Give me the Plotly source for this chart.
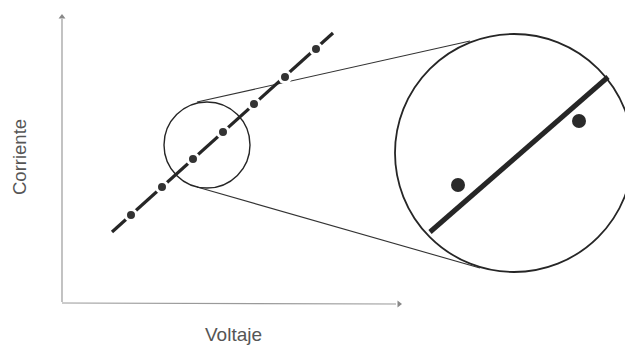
import plotly.graph_objects as go

# ---- data (drawing units: 1 unit ~ 1 px, origin at the axes corner) ----
voltage = [69, 100, 131, 161, 192, 223, 254]
current = [87, 115, 143, 170, 198, 225, 253]
fit_voltage = [50, 271]
fit_current = [70, 269]

# zoom-in circle (small) and magnified view (big)
small_center = (145, 157)
small_radius = 43
big_center = (452, 149)
big_radius = 119
zoom_fit_x = [368, 546]
zoom_fit_y = [70, 225]
zoom_pts_x = [396, 517]
zoom_pts_y = [117, 181]

# tangent connector lines
upper_conn_x = [135, 408]
upper_conn_y = [200, 261]
lower_conn_x = [135, 418]
lower_conn_y = [115, 34]

# axes
y_axis_x = [0, 0]
y_axis_y = [0, 283]
x_axis_x = [0, 334]
x_axis_y = [-1, -2]

x_label = "Voltaje"
y_label = "Corriente"

ink = "#262626"
axis_col = "#9a9a9a"

fig = go.Figure()

# axes
fig.add_trace(go.Scatter(x=y_axis_x, y=y_axis_y, mode="lines",
                         line=dict(color=axis_col, width=1.2), hoverinfo="skip"))
fig.add_trace(go.Scatter(x=x_axis_x, y=x_axis_y, mode="lines",
                         line=dict(color=axis_col, width=1.2), hoverinfo="skip"))
fig.add_trace(go.Scatter(x=[y_axis_x[1]], y=[y_axis_y[1] + 2], mode="markers",
                         marker=dict(symbol="triangle-up", size=6, color="#888"),
                         hoverinfo="skip"))
fig.add_trace(go.Scatter(x=[x_axis_x[1] + 3], y=[x_axis_y[1]], mode="markers",
                         marker=dict(symbol="triangle-right", size=6, color="#888"),
                         hoverinfo="skip"))

# connectors
fig.add_trace(go.Scatter(x=upper_conn_x, y=upper_conn_y, mode="lines",
                         line=dict(color="#333", width=1.1), hoverinfo="skip"))
fig.add_trace(go.Scatter(x=lower_conn_x, y=lower_conn_y, mode="lines",
                         line=dict(color="#333", width=1.1), hoverinfo="skip"))

# circles
fig.add_shape(type="circle", xref="x", yref="y",
              x0=small_center[0] - small_radius, x1=small_center[0] + small_radius,
              y0=small_center[1] - small_radius, y1=small_center[1] + small_radius,
              line=dict(color=ink, width=1.4), fillcolor="rgba(0,0,0,0)")
fig.add_shape(type="circle", xref="x", yref="y",
              x0=big_center[0] - big_radius, x1=big_center[0] + big_radius,
              y0=big_center[1] - big_radius, y1=big_center[1] + big_radius,
              line=dict(color=ink, width=1.8), fillcolor="white", layer="below")

# main fit line and points
fig.add_trace(go.Scatter(x=fit_voltage, y=fit_current, mode="lines",
                         line=dict(color=ink, width=3.2), hoverinfo="skip"))
fig.add_trace(go.Scatter(x=voltage, y=current, mode="markers",
                         marker=dict(size=11, color="#333",
                                     line=dict(color="white", width=3)),
                         hoverinfo="skip"))

# magnified view
fig.add_trace(go.Scatter(x=zoom_fit_x, y=zoom_fit_y, mode="lines",
                         line=dict(color=ink, width=5), hoverinfo="skip"))
fig.add_trace(go.Scatter(x=zoom_pts_x, y=zoom_pts_y, mode="markers",
                         marker=dict(size=14, color="#2a2a2a"),
                         hoverinfo="skip"))

# labels
fig.add_annotation(x=171, y=-32, xref="x", yref="y", text=x_label, showarrow=False,
                   font=dict(family="Liberation Sans, Arial", size=19, color="#555"))
fig.add_annotation(x=-43, y=145, xref="x", yref="y", text=y_label, showarrow=False,
                   textangle=-90,
                   font=dict(family="Liberation Sans, Arial", size=18.5, color="#555"))

# page has an 8px body margin: figure is 625x337 so that it fits the window
fig.update_layout(
    width=625, height=337, autosize=False,
    margin=dict(l=0, r=0, t=0, b=0),
    paper_bgcolor="white", plot_bgcolor="white",
    showlegend=False,
    xaxis=dict(range=[-54, 571], visible=False, fixedrange=True),
    yaxis=dict(range=[-43, 294], visible=False, fixedrange=True),
)

fig.write_html("out.html")
